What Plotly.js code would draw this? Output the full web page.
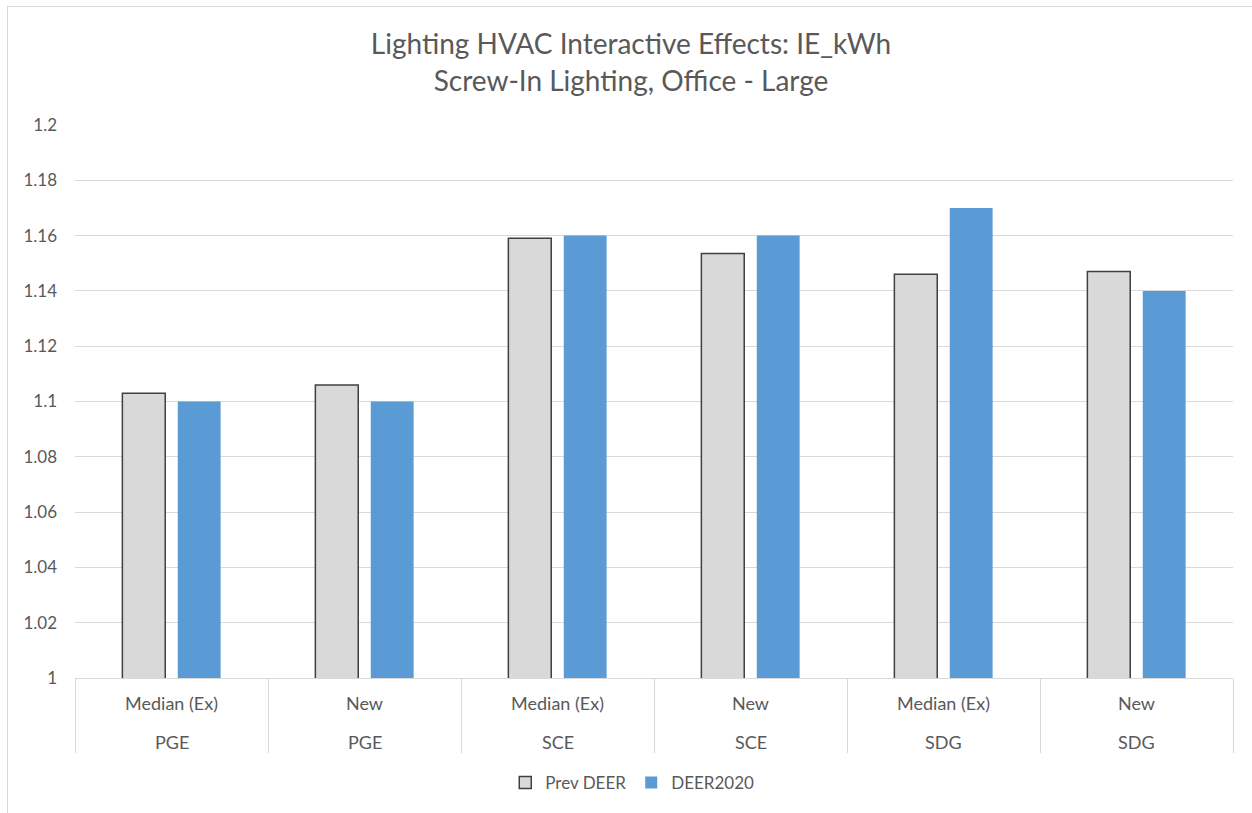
<!DOCTYPE html>
<html>
<head>
<meta charset="utf-8">
<script src="https://cdn.plot.ly/plotly-3.0.1.min.js"></script>
<style>
  html, body { margin: 0; padding: 0; background: #fff; }
  #chart { width: 1252px; height: 813px; }
  #frame { position: absolute; left: 7px; top: 6px; width: 1260px; height: 820px;
           border-left: 1px solid #D9D9D9; border-top: 1px solid #D9D9D9; pointer-events: none; }
</style>
</head>
<body>
<div id="chart"></div>
<div id="frame"></div>
<script>
// ---- data ----
const utilities = ['PGE', 'PGE', 'SCE', 'SCE', 'SDG', 'SDG'];
const vintages  = ['Median (Ex)', 'New', 'Median (Ex)', 'New', 'Median (Ex)', 'New'];
const prevDeer  = [1.103, 1.106, 1.159, 1.1535, 1.146, 1.147];
const deer2020  = [1.10, 1.10, 1.16, 1.16, 1.17, 1.14];
const yTickVals = [1, 1.02, 1.04, 1.06, 1.08, 1.1, 1.12, 1.14, 1.16, 1.18, 1.2];
const yTickText = ['1', '1.02', '1.04', '1.06', '1.08', '1.1', '1.12', '1.14', '1.16', '1.18', '1.2'];
const seriesNames = ['Prev DEER', 'DEER2020'];

// unique category keys (utility + vintage); inner row shows the vintage, outer row the utility
const keys = utilities.map((u, i) => u + ' / ' + vintages[i]);

const FONT = 'Lato, "Liberation Sans", sans-serif';
const TXT = '#595959';
const LABEL_DEPTH = 74;   // px: depth of Excel's two-row label box

const traces = [
  {
    type: 'bar', name: seriesNames[0], x: keys, y: prevDeer,
    marker: { color: '#D9D9D9', line: { color: '#404040', width: 1.5 } }
  },
  {
    type: 'bar', name: seriesNames[1], x: keys, y: deer2020,
    marker: { color: '#5B9BD5', line: { width: 0 } }
  }
];

const plotH = 813 - 125 - 135;
const outerLabels = keys.map((k, i) => ({
  xref: 'x', x: k, yref: 'paper', y: -64 / plotH, yanchor: 'middle',
  text: utilities[i], showarrow: false,
  font: { family: FONT, size: 18, color: TXT }
}));

const layout = {
  width: 1252, height: 813,
  margin: { l: 75, r: 19, t: 125, b: 135 },
  paper_bgcolor: '#ffffff', plot_bgcolor: '#ffffff',
  font: { family: FONT, color: TXT, size: 17 },
  title: {
    text: 'Lighting HVAC Interactive Effects: IE_kWh<br>Screw-In Lighting, Office - Large',
    font: { family: FONT, size: 28, color: TXT },
    xref: 'container', x: 0.504, xanchor: 'center',
    yref: 'container', y: 0.933, yanchor: 'middle'
  },
  barmode: 'group', bargap: 0.426, bargroupgap: 0.226,
  xaxis: {
    type: 'category', tickvals: keys, ticktext: vintages,
    showline: true, linecolor: '#D9D9D9', linewidth: 1,
    showgrid: false,
    ticks: 'outside', tickson: 'boundaries', ticklen: LABEL_DEPTH,
    tickcolor: '#D9D9D9', tickwidth: 1,
    ticklabelstandoff: 9,
    tickfont: { family: FONT, size: 18, color: TXT }
  },
  yaxis: {
    range: [1, 1.2], tickvals: yTickVals, ticktext: yTickText,
    showgrid: true, gridcolor: '#D9D9D9', gridwidth: 1,
    showline: false, zeroline: false, ticks: '',
    ticklabelstandoff: 17,
    tickfont: { family: FONT, size: 17, color: TXT }
  },
  annotations: outerLabels,
  showlegend: true,
  legend: {
    orientation: 'h', xref: 'container', x: 0.505, xanchor: 'center',
    yref: 'container', y: 0.037, yanchor: 'middle',
    font: { family: FONT, size: 17, color: TXT },
    itemwidth: 30, tracegroupgap: 0
  }
};

Plotly.newPlot('chart', traces, layout, { displayModeBar: false, staticPlot: true });
</script>
</body>
</html>
